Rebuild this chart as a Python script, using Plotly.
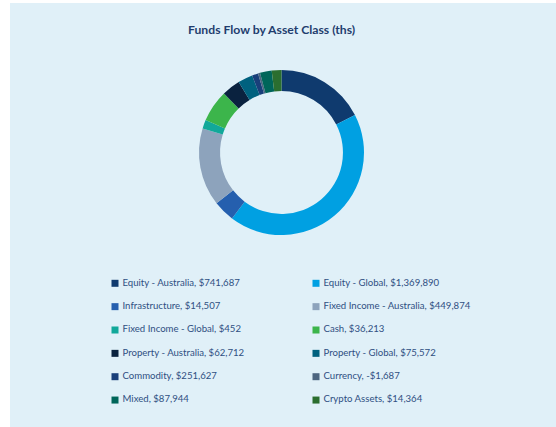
import plotly.graph_objects as go

# ---- data ----
categories = [
    "Equity - Australia", "Equity - Global", "Infrastructure", "Fixed Income - Australia",
    "Fixed Income - Global", "Cash", "Property - Australia", "Property - Global",
    "Commodity", "Currency", "Mixed", "Crypto Assets",
]
flows = [741687, 1369890, 14507, 449874, 452, 36213, 62712, 75572, 251627, -1687, 87944, 14364]
# slice shares (%) as drawn in the donut
slice_share = [17.5, 42.8, 4.2, 15.3, 1.7, 6.3, 3.6, 2.9, 1.2, 0.4, 2.3, 1.9]
colors = ["#0f3a6e", "#00a0e2", "#255fae", "#8da3bc", "#12a89a", "#3cb54b",
          "#0a223f", "#00617f", "#193f7a", "#4d6680", "#00665a", "#2b6e2f"]

W, H = 556, 427
BG = "#e0f0f8"
TXT = "#2f4f82"


def fmt(v):
    return ("-$" if v < 0 else "$") + f"{abs(v):,}"


labels = [f"{c}, {fmt(v)}" for c, v in zip(categories, flows)]

fig = go.Figure()

# donut
cx, cy, R = 281.5, 152.5, 82.5
fig.add_trace(go.Pie(
    labels=categories, values=slice_share, hole=0.745, sort=False,
    direction="clockwise", rotation=0, textinfo="none", hoverinfo="label",
    marker=dict(colors=colors, line=dict(width=0)),
    domain=dict(x=[(cx - R) / W, (cx + R) / W], y=[1 - (cy + R) / H, 1 - (cy - R) / H]),
    showlegend=False,
))

# custom two-column legend
col_x = [115, 316]
row_y0, row_dy = 283.3, 23.35
for i, (lab, col) in enumerate(zip(labels, colors)):
    x = col_x[i % 2]
    y = row_y0 + row_dy * (i // 2)
    fig.add_trace(go.Scatter(
        x=[x], y=[y], mode="markers",
        marker=dict(symbol="square", size=7, color=col, line=dict(width=0)),
        showlegend=False, hoverinfo="skip",
    ))
    fig.add_trace(go.Scatter(
        x=[x + 7.5], y=[y], mode="text", text=[lab], textposition="middle right",
        textfont=dict(family="Lato", size=9.6, color=TXT),
        showlegend=False, hoverinfo="skip",
    ))

fig.update_xaxes(range=[0, W], visible=False, domain=[0, 1], fixedrange=True)
fig.update_yaxes(range=[H, 0], visible=False, domain=[0, 1], fixedrange=True)

fig.update_layout(
    width=W, height=H,
    margin=dict(l=0, r=0, t=0, b=0),
    paper_bgcolor=BG, plot_bgcolor="rgba(0,0,0,0)",
    shapes=[
        dict(type="rect", xref="paper", yref="paper", x0=0, x1=10 / W, y0=0, y1=1,
             fillcolor="white", line=dict(width=0), layer="below"),
        dict(type="rect", xref="paper", yref="paper", x0=0, x1=1, y0=1 - 3 / H, y1=1,
             fillcolor="white", line=dict(width=0), layer="below"),
    ],
    annotations=[dict(
        text="<b>Funds Flow by Asset Class (ths)</b>", x=271 / W, y=1 - 30 / H,
        xref="paper", yref="paper", xanchor="center", yanchor="middle", showarrow=False,
        font=dict(family="Lato", size=12.2, color="#1f3d6e"),
    )],
    showlegend=False,
)

fig.write_html("out.html", config={"displayModeBar": False},
               post_script="document.body.style.margin='0';")
